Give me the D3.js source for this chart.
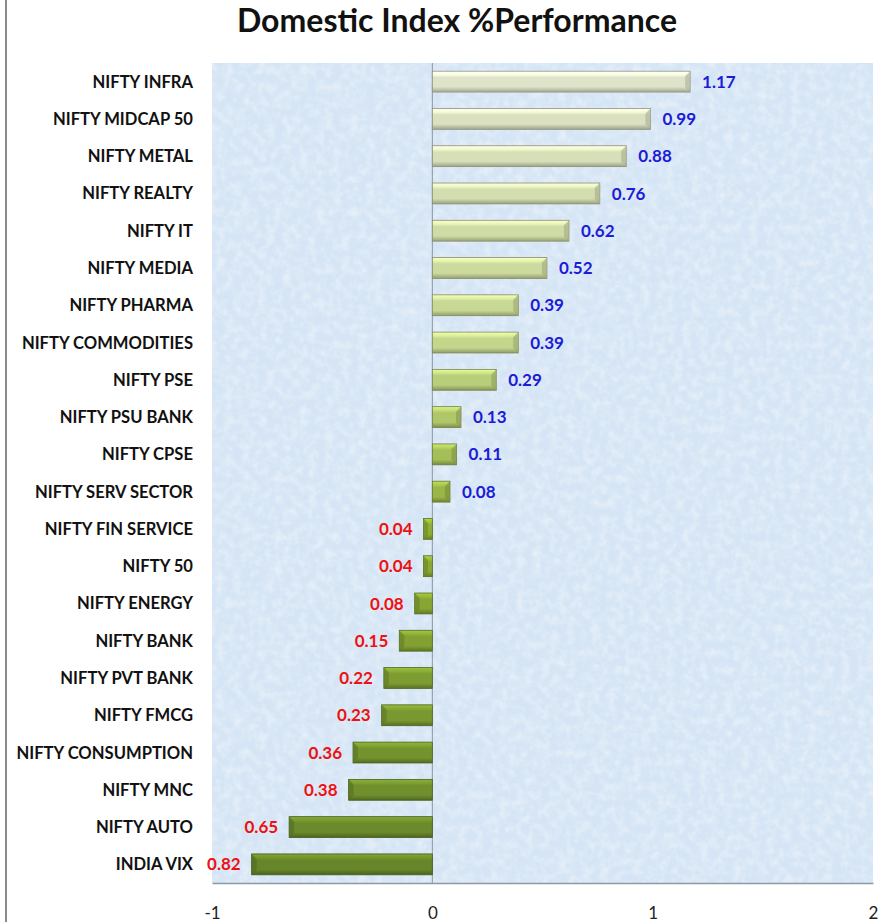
<!DOCTYPE html>
<html>
<head>
<meta charset="utf-8">
<script src="https://cdn.jsdelivr.net/npm/d3@7"></script>
<style>
  body { margin: 0; background: #ffffff; }
  svg { display: block; font-family: Lato, "Open Sans", sans-serif; }
</style>
</head>
<body>
<svg></svg>
<script>
const width = 892;
const height = 922;

const categories = [
  "NIFTY INFRA", "NIFTY MIDCAP 50", "NIFTY METAL", "NIFTY REALTY", "NIFTY IT",
  "NIFTY MEDIA", "NIFTY PHARMA", "NIFTY COMMODITIES", "NIFTY PSE", "NIFTY PSU BANK",
  "NIFTY CPSE", "NIFTY SERV SECTOR", "NIFTY FIN SERVICE", "NIFTY 50", "NIFTY ENERGY",
  "NIFTY BANK", "NIFTY PVT BANK", "NIFTY FMCG", "NIFTY CONSUMPTION", "NIFTY MNC",
  "NIFTY AUTO", "INDIA VIX"
];
const values = [
  1.17, 0.99, 0.88, 0.76, 0.62,
  0.52, 0.39, 0.39, 0.29, 0.13,
  0.11, 0.08, -0.04, -0.04, -0.08,
  -0.15, -0.22, -0.23, -0.36, -0.38,
  -0.65, -0.82
];
const xTicks = [-1, 0, 1, 2];
const title = "Domestic Index %Performance";

const plot = { left: 212, right: 873, top: 63, bottom: 883 };

const svg = d3.select("svg")
  .attr("width", width)
  .attr("height", height);

const data = categories.map(function(name, i) {
  return { name: name, value: values[i], index: i };
});

const x = d3.scaleLinear()
  .domain([xTicks[0], xTicks[xTicks.length - 1]])
  .range([plot.left, plot.right]);

const y = d3.scaleBand()
  .domain(categories)
  .range([plot.top, plot.bottom])
  .paddingInner(0.44)
  .paddingOuter(0.22);

// bar tint runs pale cream-green at the top to dark olive at the bottom
const barColor = d3.scaleLinear()
  .domain([0, 7, 12, 21])
  .range(["#dfe3c9", "#c4d68c", "#8fae36", "#67862a"]);

const defs = svg.append("defs");

// fine mottled paper texture for the plot background
const texture = defs.append("filter")
  .attr("id", "paper")
  .attr("x", 0).attr("y", 0).attr("width", 1).attr("height", 1);
texture.append("feTurbulence")
  .attr("type", "fractalNoise")
  .attr("baseFrequency", 0.12)
  .attr("numOctaves", 3)
  .attr("seed", 3)
  .attr("result", "noise");
texture.append("feColorMatrix")
  .attr("in", "noise")
  .attr("type", "matrix")
  .attr("values", "0 0 0 0 1  0 0 0 0 1  0 0 0 0 1  1.2 0 0 0 -0.45")
  .attr("result", "white");
texture.append("feComponentTransfer")
  .attr("in", "white")
  .attr("result", "soft")
  .append("feFuncA")
  .attr("type", "linear")
  .attr("slope", 0.6);
texture.append("feComposite")
  .attr("in", "soft")
  .attr("in2", "SourceGraphic")
  .attr("operator", "over");

data.forEach(function(d) {
  const base = d3.color(barColor(d.index));
  const g = defs.append("linearGradient")
    .attr("id", "bar-" + d.index)
    .attr("x1", 0).attr("y1", 0).attr("x2", 0).attr("y2", 1);
  g.append("stop").attr("offset", "0%").attr("stop-color", base.brighter(0.6));
  g.append("stop").attr("offset", "18%").attr("stop-color", base.brighter(0.3));
  g.append("stop").attr("offset", "30%").attr("stop-color", base);
  g.append("stop").attr("offset", "75%").attr("stop-color", base);
  g.append("stop").attr("offset", "100%").attr("stop-color", base.darker(0.9));
});

// left frame edge
svg.append("line")
  .attr("x1", 6).attr("x2", 6)
  .attr("y1", 0).attr("y2", height)
  .attr("stroke", "#8a8a8a")
  .attr("stroke-width", 2);

svg.append("rect")
  .attr("x", plot.left)
  .attr("y", plot.top)
  .attr("width", plot.right - plot.left)
  .attr("height", plot.bottom - plot.top)
  .attr("fill", "#d5e5f5")
  .attr("filter", "url(#paper)");

svg.append("text")
  .attr("x", 457)
  .attr("y", 32)
  .attr("text-anchor", "middle")
  .attr("font-size", 32)
  .attr("font-weight", "700")
  .attr("fill", "#111")
  .text(title);

// zero line
svg.append("line")
  .attr("x1", x(0)).attr("x2", x(0))
  .attr("y1", plot.top).attr("y2", plot.bottom)
  .attr("stroke", "#8e959e")
  .attr("stroke-width", 1);

const xAxis = svg.append("g")
  .attr("transform", `translate(0, ${plot.bottom})`)
  .call(d3.axisBottom(x)
    .tickValues(xTicks)
    .tickSize(0)
    .tickPadding(24)
    .tickFormat(function(d) { return String(d); }));
xAxis.select(".domain").attr("stroke", "#8e99a6").attr("stroke-width", 1.5);
xAxis.selectAll("text")
  .attr("font-family", "Lato, sans-serif")
  .attr("font-size", 17)
  .attr("fill", "#222");

const bars = svg.append("g").selectAll("g.bar")
  .data(data)
  .join("g")
  .attr("class", "bar");

bars.append("rect")
  .attr("x", function(d) { return x(Math.min(0, d.value)); })
  .attr("y", function(d) { return y(d.name); })
  .attr("width", function(d) { return Math.abs(x(d.value) - x(0)); })
  .attr("height", y.bandwidth())
  .attr("fill", function(d) { return "url(#bar-" + d.index + ")"; })
  .attr("stroke", function(d) { return d3.color(barColor(d.index)).darker(1.2); })
  .attr("stroke-width", 0.8);

// small bevel at the outer end of each bar
bars.append("path")
  .attr("d", function(d) {
    const h = y.bandwidth();
    const top = y(d.name);
    const end = x(d.value);
    const dir = d.value >= 0 ? -1 : 1;
    const b = Math.min(5, Math.abs(end - x(0)) / 2);
    return `M${end},${top} L${end + dir * b},${top + b} L${end + dir * b},${top + h - b} L${end},${top + h} Z`;
  })
  .attr("fill", function(d) { return d3.color(barColor(d.index)).darker(0.6); })
  .attr("opacity", 0.7);

svg.append("g").selectAll("text.category")
  .data(data)
  .join("text")
  .attr("class", "category")
  .attr("x", 193)
  .attr("y", function(d) { return y(d.name) + y.bandwidth() / 2; })
  .attr("dy", "0.36em")
  .attr("text-anchor", "end")
  .attr("font-size", 16.6)
  .attr("font-weight", "700")
  .attr("fill", "#111")
  .text(function(d) { return d.name; });

svg.append("g").selectAll("text.value")
  .data(data)
  .join("text")
  .attr("class", "value")
  .attr("x", function(d) { return d.value >= 0 ? x(d.value) + 12 : x(d.value) - 11; })
  .attr("y", function(d) { return y(d.name) + y.bandwidth() / 2; })
  .attr("dy", "0.36em")
  .attr("text-anchor", function(d) { return d.value >= 0 ? "start" : "end"; })
  .attr("font-size", 17)
  .attr("font-weight", "700")
  .attr("fill", function(d) { return d.value >= 0 ? "#1c1cd6" : "#ee1111"; })
  .text(function(d) { return d3.format(".2f")(Math.abs(d.value)); });
</script>
</body>
</html>
